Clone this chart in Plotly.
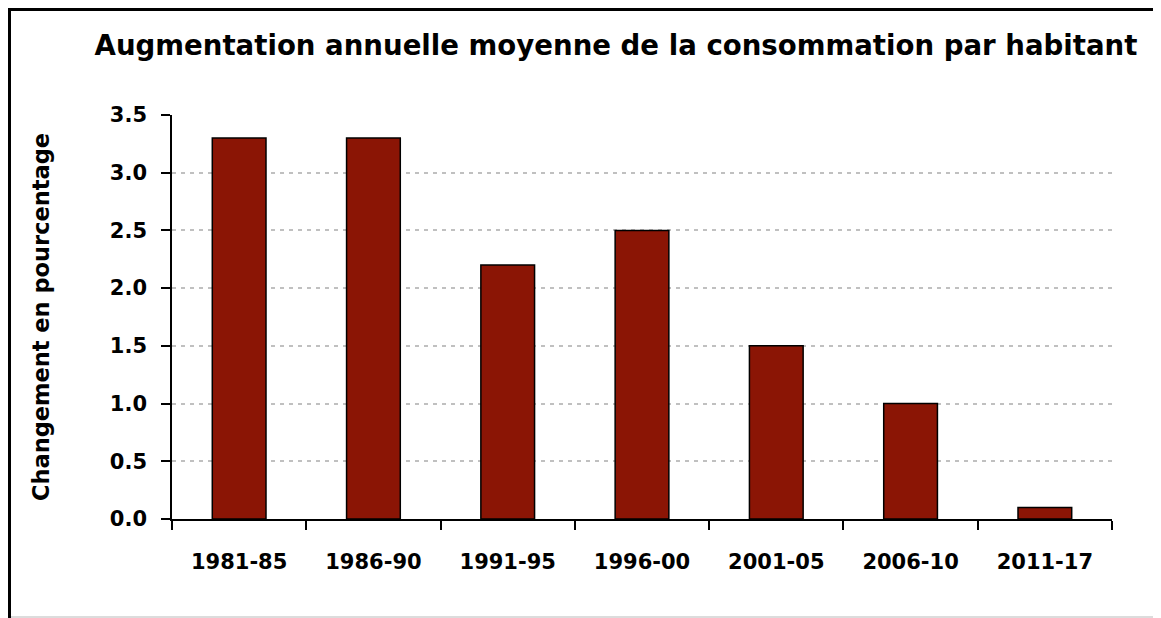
import plotly.graph_objects as go

categories = ["1981-85", "1986-90", "1991-95", "1996-00", "2001-05", "2006-10", "2011-17"]
values = [3.3, 3.3, 2.2, 2.5, 1.5, 1.0, 0.1]
tick_vals = [0, 0.5, 1.0, 1.5, 2.0, 2.5, 3.0, 3.5]
tick_text = ["0.0", "0.5", "1.0", "1.5", "2.0", "2.5", "3.0", "3.5"]

FONT = "DejaVu Sans, Liberation Sans, Arial, sans-serif"

fig = go.Figure()
fig.add_trace(go.Bar(
    x=categories, y=values,
    marker=dict(color="#8B1505", line=dict(color="black", width=1.5)),
    width=0.4,
))

# figure is offset by 8px in the page (body margin)
OFF = 8
W, H = 1161 - OFF, 618 - OFF
L, R, T, B = 172 - OFF, 49, 115 - OFF, 99
pw, ph = W - L - R, H - T - B

def px_x(x):
    return (x - L) / pw

def px_y(y):
    return (H - B - y) / ph

fig.update_layout(
    width=W, height=H,
    margin=dict(l=L, r=R, t=T, b=B),
    plot_bgcolor="white", paper_bgcolor="white",
    showlegend=False,
    font=dict(family=FONT, color="black"),
    title=dict(
        text="<b>Augmentation annuelle moyenne de la consommation par habitant</b>",
        x=(616 - OFF) / W, xanchor="center", y=1 - (45 - OFF) / H, yanchor="middle",
        font=dict(size=27.6, family=FONT, color="black"),
    ),
    xaxis=dict(
        type="category",
        showline=True, linecolor="black", linewidth=1.5,
        ticks="outside", tickson="boundaries", ticklen=9, tickwidth=1.5, tickcolor="black",
        tickfont=dict(size=21, family=FONT, color="black"),
        showgrid=False,
        ticklabelstandoff=23,
        tickvals=categories, ticktext=["<b>%s</b>" % c for c in categories],
    ),
    yaxis=dict(
        range=[0, 3.5],
        tickvals=tick_vals, ticktext=["<b>%s</b>" % t for t in tick_text],
        showline=True, linecolor="black", linewidth=1.5,
        ticks="outside", ticklen=9, tickwidth=1.5, tickcolor="black",
        tickfont=dict(size=21, family=FONT, color="black"),
        ticklabelstandoff=10,
        showgrid=True, gridcolor="#c0c0c0", gridwidth=2, griddash="4px,5px",
        zeroline=False,
        title=dict(text="<b>Changement en pourcentage</b>",
                   font=dict(size=22.5, family=FONT, color="black"), standoff=54),
    ),
)

# outer frame (figure coordinates)
fig.add_shape(type="line", xref="paper", yref="paper",
              x0=px_x(1.5), x1=px_x(1.5), y0=px_y(0), y1=px_y(H + 5),
              line=dict(color="black", width=3))
fig.add_shape(type="line", xref="paper", yref="paper",
              x0=px_x(0), x1=px_x(W + 5), y0=px_y(1.5), y1=px_y(1.5),
              line=dict(color="black", width=3))
fig.add_shape(type="line", xref="paper", yref="paper",
              x0=px_x(3), x1=px_x(W + 5), y0=px_y(H - 1), y1=px_y(H - 1),
              line=dict(color="#d0d0d0", width=1.5))

fig.write_html("out.html")
